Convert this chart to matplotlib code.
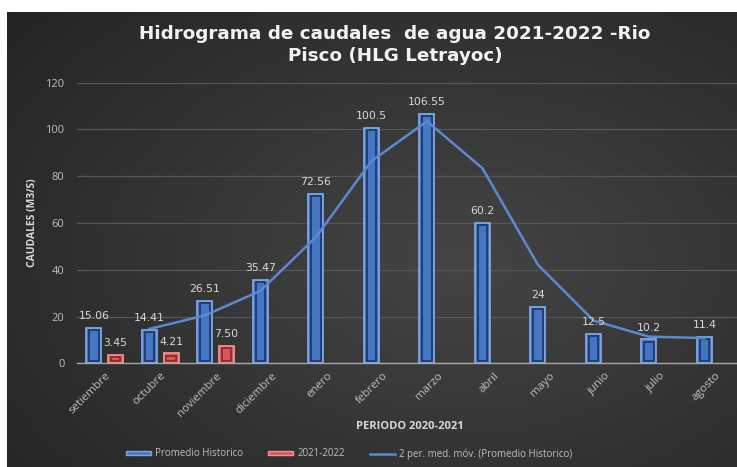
import numpy as np
import matplotlib
matplotlib.use("Agg")
import matplotlib.pyplot as plt
from matplotlib.patches import Patch
from matplotlib.lines import Line2D

# ---- data ----
meses = ["setiembre", "octubre", "noviembre", "diciembre", "enero", "febrero",
         "marzo", "abril", "mayo", "junio", "julio", "agosto"]
promedio_historico = [15.06, 14.41, 26.51, 35.47, 72.56, 100.5, 106.55, 60.2, 24, 12.5, 10.2, 11.4]
promedio_labels = ["15.06", "14.41", "26.51", "35.47", "72.56", "100.5", "106.55", "60.2", "24", "12.5", "10.2", "11.4"]
serie_2021_2022 = [3.45, 4.21, 7.50]
serie_2021_2022_labels = ["3.45", "4.21", "7.50"]
media_movil = [np.nan, 14.7, 20.5, 31.0, 54.0, 86.5, 103.5, 83.4, 42.1, 18.3, 11.4, 10.8]
y_ticks = [0, 20, 40, 60, 80, 100, 120]

W, H = 737, 467
fig = plt.figure(figsize=(W / 100, H / 100), dpi=100)
fig.patch.set_facecolor("white")

# background gradient (dark, radial lighter toward centre-right)
bg = fig.add_axes([7 / W, 0, 1 - 7 / W, (H - 12) / H])
bg.set_axis_off()
yy, xx = np.mgrid[0:1:300j, 0:1:500j]
r = np.sqrt(((xx - 0.62) / 0.85) ** 2 + ((yy - 0.45) / 0.9) ** 2)
r = np.clip(r, 0, 1)
c0 = np.array([0x45, 0x45, 0x45]) / 255
c1 = np.array([0x22, 0x22, 0x22]) / 255
img = c0[None, None, :] * (1 - r[..., None]) + c1[None, None, :] * r[..., None]
bg.imshow(img, aspect="auto", extent=[0, 1, 0, 1], origin="lower")
bg.set_xlim(0, 1)
bg.set_ylim(0, 1)

ax_left = 77 / W
ax_right = 743 / W
ax_bottom = (H - 363.3) / H
ax_top = (H - 82.7) / H
ax = fig.add_axes([ax_left, ax_bottom, ax_right - ax_left, ax_top - ax_bottom])
ax.set_facecolor("none")

x = np.arange(len(meses))
bw = 0.27
off = 0.194

blue_fill = "#4675c2"
blue_edge = "#7ea6e2"
blue_dark = "#1c3a6c"
red_fill = "#d65858"
red_edge = "#f09090"
red_dark = "#8e2a2a"

ph = np.array(promedio_historico)
ax.bar(x - off, ph, width=bw, color=blue_fill, edgecolor=blue_edge, linewidth=1.3, zorder=3)
ins_y = 0.9
ax.bar(x - off, ph - 2 * ins_y, bottom=ins_y, width=bw * 0.66, fill=False,
       edgecolor=blue_dark, linewidth=1.3, zorder=4)

xr = x[:len(serie_2021_2022)] + off
rv = np.array(serie_2021_2022)
ax.bar(xr, rv, width=bw, color=red_fill, edgecolor=red_edge, linewidth=1.3, zorder=3)
ax.bar(xr, rv - 2 * ins_y, bottom=ins_y, width=bw * 0.66, fill=False,
       edgecolor=red_dark, linewidth=1.3, zorder=4)

ax.plot(x - off, media_movil, color="#5a8ad2", linewidth=1.8, zorder=5)

lab_color = "#d9d9d9"
for xi, v, t in zip(x - off, ph, promedio_labels):
    ax.annotate(t, (xi, v), xytext=(0, 5), textcoords="offset points", ha="center",
                va="bottom", fontsize=7.8, color=lab_color, family="DejaVu Sans", zorder=6)
for xi, v, t in zip(xr, rv, serie_2021_2022_labels):
    ax.annotate(t, (xi, v), xytext=(0, 5), textcoords="offset points", ha="center",
                va="bottom", fontsize=7.8, color=lab_color, family="DejaVu Sans", zorder=6)

ax.set_xlim(-0.5, len(meses) - 0.5)
ax.set_ylim(0, 120)
ax.set_yticks(y_ticks)
ax.grid(axis="y", color="#565656", linewidth=0.9, zorder=0)
ax.set_axisbelow(True)
for s in ["top", "right", "left"]:
    ax.spines[s].set_visible(False)
ax.spines["bottom"].set_color("#a6a6a6")
ax.spines["bottom"].set_linewidth(1.0)
ax.spines["bottom"].set_zorder(6)

ax.tick_params(axis="y", length=0, pad=9, labelsize=8, labelcolor="#bfbfbf")
ax.tick_params(axis="x", length=0, pad=5, labelsize=8.2, labelcolor="#bfbfbf")
ax.set_xticks(x)
ax.set_xticklabels(meses, rotation=45, ha="right", va="top", rotation_mode="anchor",
                   family="Open Sans")
for t in ax.get_yticklabels():
    t.set_family("Open Sans")

ax.set_ylabel("CAUDALES (M3/S)", fontsize=7.5, fontweight="bold", color=lab_color,
              family="Open Sans", labelpad=5)
ax.set_xlabel("PERIODO 2020-2021", fontsize=8, fontweight="bold", color=lab_color,
              family="Open Sans", labelpad=2)

fig.text(395 / W, 1 - 45 / H, "Hidrograma de caudales  de agua 2021-2022 -Rio\nPisco (HLG Letrayoc)",
         ha="center", va="center", multialignment="center", fontsize=13.2,
         fontweight="bold", color="#f2f2f2", family="DejaVu Sans", linespacing=1.25)

handles = [Patch(facecolor=blue_fill, edgecolor=blue_edge, linewidth=1.0),
           Patch(facecolor=red_fill, edgecolor=red_edge, linewidth=1.0),
           Line2D([0], [0], color="#5a8ad2", linewidth=1.8)]
labels = ["Promedio Historico", "2021-2022", "2 per. med. móv. (Promedio Historico)"]
leg = fig.legend(handles, labels, loc="center", bbox_to_anchor=(349 / W, 1 - 454 / H),
                 ncol=3, frameon=False, labelcolor="#bfbfbf",
                 handlelength=2.6, handleheight=0.35, handletextpad=0.4, columnspacing=2.6,
                 prop={"family": "Open Sans", "size": 7})

fig.savefig("out.png", dpi=100)
